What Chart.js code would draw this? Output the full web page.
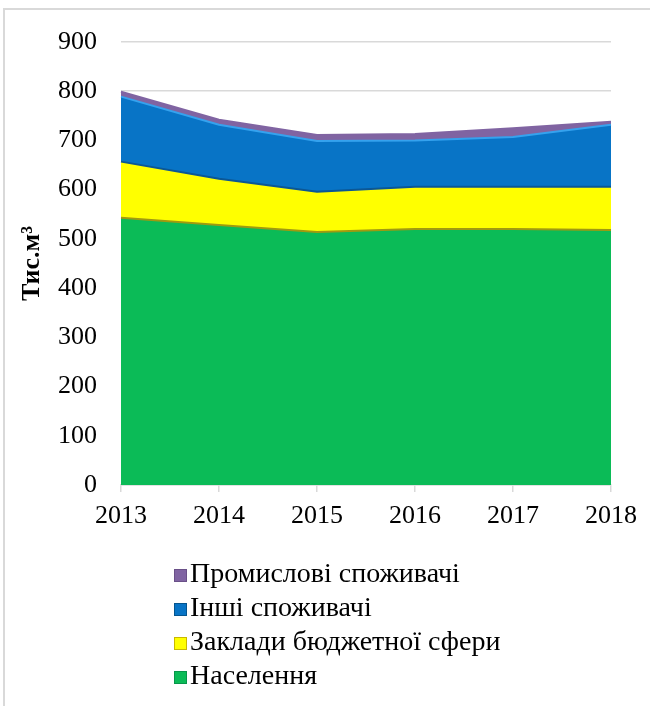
<!DOCTYPE html>
<html>
<head>
<meta charset="utf-8">
<script src="https://cdn.jsdelivr.net/npm/chart.js@4/dist/chart.umd.min.js"></script>
<style>
  html, body { margin: 0; padding: 0; background: #fff; }
  #wrap { position: relative; width: 650px; height: 706px; overflow: hidden; }
  #frame { position: absolute; left: 3px; top: 8px; width: 700px; height: 760px;
           border-left: 2px solid #d9d9d9; border-top: 2px solid #d9d9d9; }
  canvas { position: absolute; left: 0; top: 0; }
</style>
</head>
<body>
<div id="wrap">
  <div id="frame"></div>
  <canvas id="chart" width="650" height="706"></canvas>
</div>
<script>
// Water consumption by consumer group, thousand m3
const years = ['2013', '2014', '2015', '2016', '2017', '2018'];
const population = [543, 528, 514, 520, 520, 518];
const budgetInstitutions = [114, 94, 82, 86, 86, 88];
const otherConsumers = [132, 110, 103, 94, 101, 126];
const industrial = [10, 10, 12, 13, 18, 6];
const yTicks = [0, 100, 200, 300, 400, 500, 600, 700, 800, 900];

const serif = "'Liberation Serif', 'Times New Roman', serif";

// each band's top edge takes the shade of the boundary it sits under
function area(label, data, fill, edge, swatchEdge) {
    return {
        label: label,
        data: data,
        backgroundColor: fill,
        borderColor: edge,
        swatchEdge: swatchEdge,
        borderWidth: 2,
        pointRadius: 0,
        tension: 0,
        fill: true
    };
}

// Legend drawn as a vertical list under the plot, top series first
const legendPlugin = {
    id: 'stackLegend',
    afterDraw(chart) {
        const ctx = chart.ctx;
        const items = chart.data.datasets.slice().reverse();
        ctx.save();
        ctx.font = Chart.helpers.toFont({ family: serif, size: 28 }).string;
        ctx.textBaseline = 'middle';
        ctx.textAlign = 'left';
        items.forEach((ds, i) => {
            const y = 575 + i * 34;
            ctx.fillStyle = ds.backgroundColor;
            ctx.fillRect(174, y - 6, 13, 13);
            ctx.strokeStyle = ds.swatchEdge;
            ctx.lineWidth = 1;
            ctx.strokeRect(174.5, y - 5.5, 12, 12);
            ctx.fillStyle = '#000';
            ctx.fillText(ds.label, 190, y);
        });
        ctx.restore();
    }
};

new Chart(document.getElementById('chart'), {
    type: 'line',
    data: {
        labels: years,
        datasets: [
            area('Населення', population, '#0bbb57', '#a09a10', '#07964a'),
            area('Заклади бюджетної сфери', budgetInstitutions, '#ffff00', '#0b5795', '#c9b800'),
            area('Інші споживачі', otherConsumers, '#0874c6', '#35a2ee', '#05558f'),
            area('Промислові споживачі', industrial, '#8064a2', '#8064a2', '#6a5088')
        ]
    },
    options: {
        responsive: false,
        animation: false,
        layout: { padding: { top: 42, right: 39, bottom: 176, left: 0 } },
        plugins: {
            legend: { display: false },
            tooltip: { enabled: false }
        },
        scales: {
            x: {
                offset: false,
                grid: { drawOnChartArea: false, drawTicks: true, tickLength: 7, color: '#d9d9d9', lineWidth: 1.5 },
                border: { color: '#d9d9d9', width: 1.5 },
                ticks: { color: '#000', font: { family: serif, size: 26 }, padding: 9, maxRotation: 0 },
                afterFit(scale) { scale.height = 45; }
            },
            y: {
                stacked: true,
                min: 0,
                max: 900,
                afterBuildTicks(scale) { scale.ticks = yTicks.map(v => ({ value: v })); },
                grid: { color: '#d9d9d9', lineWidth: 1.5, drawTicks: false },
                border: { display: false },
                ticks: { color: '#000', font: { family: serif, size: 26 }, padding: 24 },
                title: {
                    display: true,
                    text: 'Тис.м³',
                    color: '#000',
                    font: { family: serif, size: 26, weight: 'bold' },
                    padding: { top: 17, bottom: 0 }
                },
                afterFit(scale) { scale.width = 121; }
            }
        }
    },
    plugins: [legendPlugin]
});
</script>
</body>
</html>
